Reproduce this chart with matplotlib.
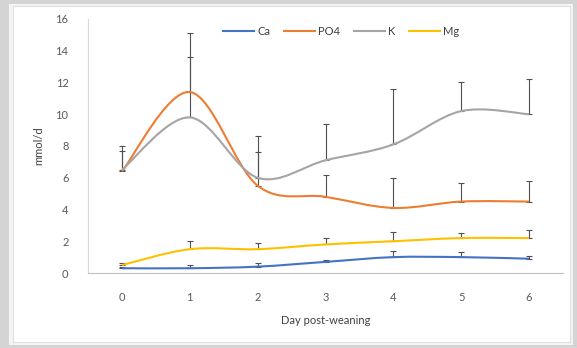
import numpy as np
import matplotlib
matplotlib.use('Agg')
from matplotlib import pyplot as plt
from matplotlib.path import Path
from matplotlib.patches import PathPatch, Rectangle
from matplotlib.lines import Line2D

plt.rcParams['font.family'] = ['Lato', 'DejaVu Sans']

days = [0, 1, 2, 3, 4, 5, 6]
day_labels = ['0', '1', '2', '3', '4', '5', '6']

ca = [0.3, 0.3, 0.4, 0.7, 1.0, 1.0, 0.9]
ca_err = [0.05, 0.2, 0.2, 0.15, 0.4, 0.3, 0.2]
po4 = [6.4, 11.4, 5.5, 4.8, 4.1, 4.5, 4.5]
po4_err = [1.3, 2.2, 2.1, 1.4, 1.9, 1.2, 1.3]
k = [6.5, 9.8, 6.0, 7.1, 8.1, 10.2, 10.0]
k_err = [1.5, 5.3, 2.6, 2.3, 3.5, 1.8, 2.2]
mg = [0.5, 1.5, 1.5, 1.8, 2.0, 2.2, 2.2]
mg_err = [0.1, 0.5, 0.4, 0.4, 0.6, 0.3, 0.5]

names = ['Ca', 'PO4', 'K', 'Mg']
colors = ['#4472C4', '#ED7D31', '#A5A5A5', '#FFC000']


def smooth_path(x, y):
    # excel style smoothed line -> cubic bezier through the points
    p = np.column_stack([x, y]).astype(float)
    n = len(p)
    verts = [p[0]]
    codes = [Path.MOVETO]
    for i in range(n - 1):
        p0 = p[i - 1] if i > 0 else p[i]
        p3 = p[i + 2] if i + 2 < n else p[i + 1]
        c1 = p[i] + (p[i + 1] - p0) / 6.0
        c2 = p[i + 1] - (p3 - p[i]) / 6.0
        verts += [c1, c2, p[i + 1]]
        codes += [Path.CURVE4] * 3
    return Path(verts, codes)


fig = plt.figure(figsize=(5.77, 3.48), dpi=100)
fig.patch.set_facecolor('#d4d4d4')
fig.add_artist(Rectangle((9 / 577, 3 / 348), 564 / 577, 341 / 348,
                         transform=fig.transFigure, facecolor='#f4f4f4',
                         edgecolor='none', zorder=-10))
fig.add_artist(Rectangle((13 / 577, 6 / 348), 557 / 577, 336 / 348,
                         transform=fig.transFigure, facecolor='white',
                         edgecolor='#e0e0e0', lw=0.8, zorder=-9))

ax = fig.add_axes([88 / 577, 75 / 348, 475 / 577, 254 / 348])
ax.set_facecolor('none')
ax.set_zorder(1)

series = [(ca, ca_err), (po4, po4_err), (k, k_err), (mg, mg_err)]
for (vals, errs), col in zip(series, colors):
    ax.errorbar(days, vals, yerr=[np.zeros(len(errs)), errs], fmt='none',
                ecolor='#505050', elinewidth=0.8, capsize=2.5, capthick=0.8, zorder=2)
for (vals, errs), col in zip(series, colors):
    ax.add_patch(PathPatch(smooth_path(days, vals), facecolor='none',
                           edgecolor=col, lw=1.5, zorder=3))

ax.set_xlim(-0.5, 6.5)
ax.set_ylim(0, 16)
ax.set_xticks(days)
ax.set_xticklabels(day_labels)
ax.set_yticks(range(0, 17, 2))
ax.tick_params(length=0, labelsize=8, colors='#595959')
ax.tick_params(axis='x', pad=14)
ax.tick_params(axis='y', pad=14)
for s in ['top', 'right']:
    ax.spines[s].set_visible(False)
ax.spines['left'].set_color('#d9d9d9')
ax.spines['bottom'].set_color('#bfbfbf')

ax.set_ylabel('mmol/d', fontsize=8, color='#404040', labelpad=8)
ax.set_xlabel('Day post-weaning', fontsize=8, color='#404040', labelpad=8)

handles = [Line2D([0], [0], color=c, lw=1.5) for c in colors]
ax.legend(handles, names, loc='center', bbox_to_anchor=(0.533, 0.95), ncol=4,
          frameon=False, fontsize=8, handlelength=2.8, columnspacing=1.2,
          handletextpad=0.3, labelcolor='#404040')

plt.savefig('out.png', dpi=100, facecolor=fig.get_facecolor())
